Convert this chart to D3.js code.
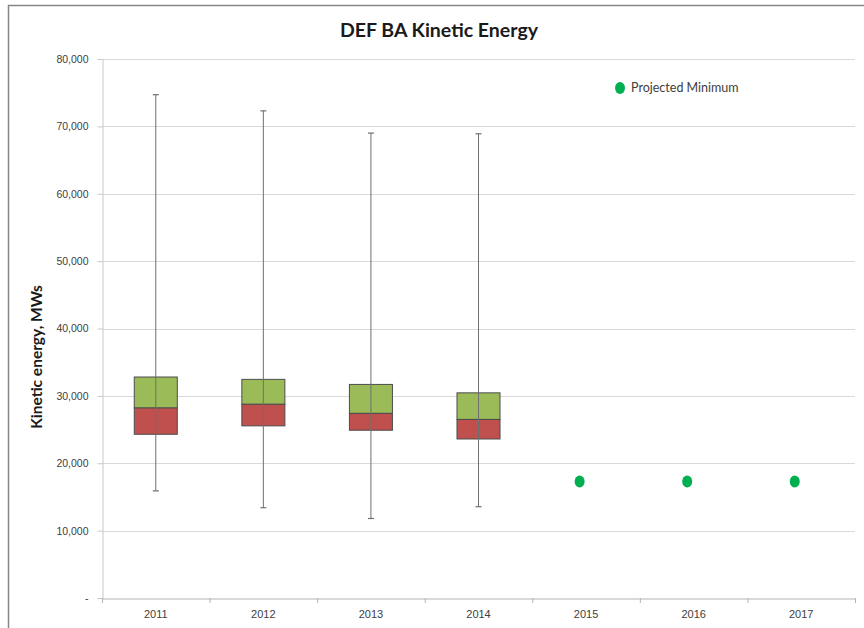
<!DOCTYPE html>
<html>
<head>
<meta charset="utf-8">
<script src="https://cdn.jsdelivr.net/npm/d3@7"></script>
<style>
  body { margin: 0; background: #fff; }
  svg { display: block; font-family: Lato, "Open Sans", sans-serif; }
</style>
</head>
<body>
<svg id="chart" width="864" height="628"></svg>
<script>
// years on the x axis
let years = ["2011", "2012", "2013", "2014", "2015", "2016", "2017"];

// historical box data (MWs)
let boxYears = ["2011", "2012", "2013", "2014"];
let whiskerMax = [74700, 72300, 69000, 68900];
let whiskerMin = [15900, 13400, 11800, 13550];
let boxTop = [32800, 32450, 31700, 30450];
let boxMid = [28200, 28750, 27400, 26500];
let boxBottom = [24300, 25550, 24900, 23600];

// projected minimum
let projYears = ["2015", "2016", "2017"];
let projMin = [17300, 17300, 17300];

let yTicks = [0, 10000, 20000, 30000, 40000, 50000, 60000, 70000, 80000];

let svg = d3.select("#chart");

let margin = {left: 102, right: 9, top: 59, bottom: 30};
let W = 864, H = 628;

// outer chart frame
svg.append("rect")
    .attr("x", 8.5).attr("y", 5.5)
    .attr("width", W + 10).attr("height", H + 10)
    .attr("fill", "none")
    .attr("stroke", "#868686")
    .attr("stroke-width", 1.5);

let x = d3.scaleBand()
    .domain(years)
    .range([margin.left, W - margin.right]);

let y = d3.scaleLinear()
    .domain([0, 80000])
    .range([H - margin.bottom, margin.top]);

let fmt = d3.format(",");

// gridlines
svg.append("g").classed("grid", true)
    .selectAll("line")
    .data(yTicks.slice(1))
    .enter()
    .append("line")
    .attr("x1", margin.left)
    .attr("x2", W - margin.right)
    .attr("y1", d => Math.round(y(d)) + 0.5)
    .attr("y2", d => Math.round(y(d)) + 0.5)
    .attr("stroke", "#d9d9d9")
    .attr("stroke-width", 1.2);

// y axis
let yAxis = svg.append("g")
    .attr("transform", `translate(${margin.left + 0.5},0)`)
    .call(d3.axisLeft(y)
        .tickValues(yTicks)
        .tickSize(5)
        .tickPadding(9)
        .tickFormat(d => d === 0 ? "-" : fmt(d)));

yAxis.select(".domain").attr("stroke", "#c8c8c8");
yAxis.selectAll(".tick line").attr("stroke", "#c8c8c8");
yAxis.selectAll(".tick text")
    .attr("fill", "#404040")
    .style("font-size", "10.5px");

// x axis
let xAxis = svg.append("g")
    .attr("transform", `translate(0,${Math.round(y(0)) + 0.5})`)
    .call(d3.axisBottom(x).tickSize(0).tickPadding(12));

xAxis.select(".domain").attr("stroke", "#b4b4b4");
xAxis.selectAll(".tick text")
    .attr("fill", "#404040")
    .style("font-size", "11px");

// category separators on the x axis
svg.append("g")
    .selectAll("line")
    .data(years.concat(["end"]))
    .enter()
    .append("line")
    .attr("x1", (d, i) => x.range()[0] + i * x.bandwidth() + 0.5)
    .attr("x2", (d, i) => x.range()[0] + i * x.bandwidth() + 0.5)
    .attr("y1", y(0))
    .attr("y2", y(0) + 5)
    .attr("stroke", "#b4b4b4");

// box data rows
let boxes = boxYears.map(function (yr, i) {
    return {
        year: yr,
        max: whiskerMax[i],
        min: whiskerMin[i],
        top: boxTop[i],
        mid: boxMid[i],
        bottom: boxBottom[i]
    };
});

let boxW = x.bandwidth() * 0.4;
let cx = d => x(d.year) + x.bandwidth() / 2;

let boxG = svg.append("g").classed("boxes", true)
    .selectAll("g")
    .data(boxes)
    .enter()
    .append("g");

// upper half of box
boxG.append("rect")
    .attr("x", d => cx(d) - boxW / 2)
    .attr("y", d => y(d.top))
    .attr("width", boxW)
    .attr("height", d => y(d.mid) - y(d.top))
    .attr("fill", "#9bbb59")
    .attr("stroke", "#4d4d4d")
    .attr("stroke-width", 1);

// lower half of box
boxG.append("rect")
    .attr("x", d => cx(d) - boxW / 2)
    .attr("y", d => y(d.mid))
    .attr("width", boxW)
    .attr("height", d => y(d.bottom) - y(d.mid))
    .attr("fill", "#c0504d")
    .attr("stroke", "#4d4d4d")
    .attr("stroke-width", 1);

// whisker line
boxG.append("line")
    .attr("x1", d => cx(d))
    .attr("x2", d => cx(d))
    .attr("y1", d => y(d.max))
    .attr("y2", d => y(d.min))
    .attr("stroke", "#6f6f6f")
    .attr("stroke-width", 1);

// whisker caps
boxG.selectAll("line.cap")
    .data(d => [{c: cx(d), v: d.max}, {c: cx(d), v: d.min}])
    .enter()
    .append("line").classed("cap", true)
    .attr("x1", d => d.c - 3)
    .attr("x2", d => d.c + 3)
    .attr("y1", d => y(d.v))
    .attr("y2", d => y(d.v))
    .attr("stroke", "#6f6f6f")
    .attr("stroke-width", 1.2);

// projected minimum markers (sit a little left of the category centre)
svg.append("g").classed("proj", true)
    .selectAll("ellipse")
    .data(projYears.map((yr, i) => ({year: yr, v: projMin[i]})))
    .enter()
    .append("ellipse")
    .attr("cx", d => x(d.year) + x.bandwidth() * 0.44)
    .attr("cy", d => y(d.v))
    .attr("rx", 5)
    .attr("ry", 6)
    .attr("fill", "#00b050");

// legend
let legend = svg.append("g").attr("transform", "translate(620,88)");
legend.append("ellipse")
    .attr("rx", 5).attr("ry", 6)
    .attr("fill", "#00b050");
legend.append("text")
    .attr("x", 11).attr("y", 4)
    .attr("fill", "#404040")
    .style("font-size", "12.5px")
    .text("Projected Minimum");

// title
svg.append("text")
    .attr("x", 439).attr("y", 37)
    .attr("text-anchor", "middle")
    .attr("fill", "#1a1a1a")
    .style("font-size", "19.5px")
    .style("font-weight", "bold")
    .text("DEF BA Kinetic Energy");

// y axis title
svg.append("text")
    .attr("transform", "translate(42,357) rotate(-90)")
    .attr("text-anchor", "middle")
    .attr("fill", "#1a1a1a")
    .style("font-size", "15.5px")
    .style("font-weight", "bold")
    .text("Kinetic energy, MWs");
</script>
</body>
</html>
